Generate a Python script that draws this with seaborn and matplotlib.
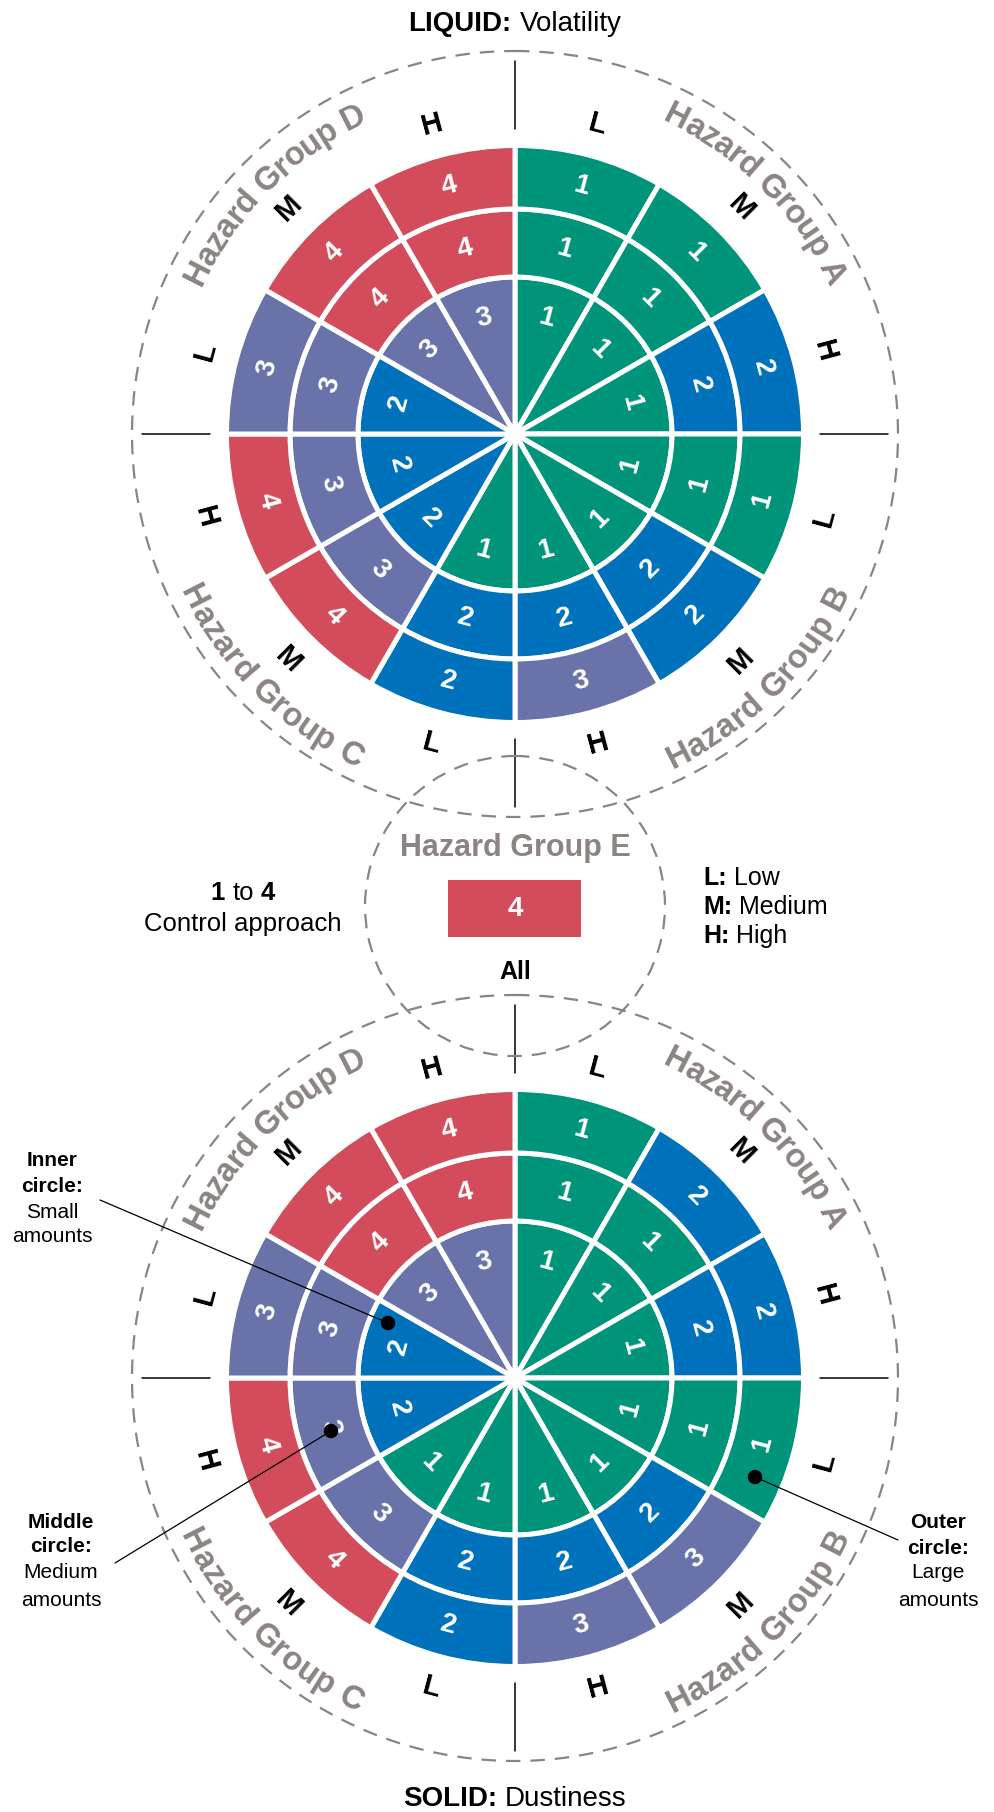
import numpy as np
import matplotlib
matplotlib.use('Agg')
import matplotlib.pyplot as plt
import seaborn as sns
from matplotlib.font_manager import FontProperties
from matplotlib.patches import Circle, Rectangle

# sectors run clockwise from 12 o'clock: A-L, A-M, A-H, B-L, ... D-H
groups = ['A', 'B', 'C', 'D']
levels = ['L', 'M', 'H']
liquid_inner = [1, 1, 1, 1, 1, 1, 1, 2, 2, 2, 3, 3]
liquid_middle = [1, 1, 2, 1, 2, 2, 2, 3, 3, 3, 4, 4]
liquid_outer = [1, 1, 2, 1, 2, 3, 2, 4, 4, 3, 4, 4]
solid_inner = [1, 1, 1, 1, 1, 1, 1, 1, 2, 2, 3, 3]
solid_middle = [1, 1, 2, 1, 2, 2, 2, 3, 3, 3, 4, 4]
solid_outer = [1, 2, 2, 1, 3, 3, 2, 4, 4, 3, 4, 4]
group_e_value = 4

sns.set_theme(style='white')
pal = sns.color_palette(['#00947B', '#0072BB', '#6A72AA', '#D24C5C'])
GRAY = '#8C8482'
SANS = ['Liberation Sans', 'DejaVu Sans']
plt.rcParams['font.family'] = SANS

W, H = 994, 1812
CX = 515
RBOX = 400
fig = plt.figure(figsize=(W / 100, H / 100), dpi=100)
renderer = fig.canvas.get_renderer()

# (bottom, top, text radius)
ring_geom = [(0, 157, 120), (157, 225, 191), (225, 288.5, 256)]


def text_w(s, prop):
    return renderer.get_text_width_height_descent(s, prop, ismath=False)[0]


def rot_for(theta):
    d = np.rad2deg(theta) % 360
    return 180 - d if 90 < d < 270 else -d


def arc_text(ax, s, theta_c, r_mid, prop, top_out, color):
    base = text_w('l', prop)
    pw = [0.0] + [text_w(s[:k] + 'l', prop) - base for k in range(1, len(s) + 1)]
    total = pw[-1]
    cap = prop.get_size_in_points() * 100 / 72 * 0.72
    r_base = r_mid - cap / 2 if top_out else r_mid + cap / 2
    for i, ch in enumerate(s):
        if ch == ' ':
            continue
        off = ((pw[i] + pw[i + 1]) / 2 - total / 2) / r_mid
        th = theta_c + off if top_out else theta_c - off
        ax.text(th, r_base, ch, fontproperties=prop, color=color,
                rotation=rot_for(th), rotation_mode='anchor',
                ha='center', va='baseline')


def draw_wheel(cy, rings):
    ax = fig.add_axes([(CX - RBOX) / W, (H - cy - RBOX) / H, 2 * RBOX / W, 2 * RBOX / H],
                      projection='polar')
    ax.set_theta_zero_location('N')
    ax.set_theta_direction(-1)
    ax.set_ylim(0, RBOX)
    ax.set_axis_off()
    theta = np.deg2rad(15 + 30 * np.arange(12))
    for (r0, r1, rt), vals in zip(ring_geom, rings):
        ax.bar(theta, r1 - r0, width=np.deg2rad(30), bottom=r0,
               color=[pal[v - 1] for v in vals], edgecolor='white', linewidth=3.6)
        for t, v in zip(theta, vals):
            ax.text(t, rt, str(v), color='white', fontsize=20, fontweight='bold',
                    rotation=rot_for(t), rotation_mode='anchor', ha='center', va='center')
    for k, t in enumerate(theta):
        ax.text(t, 320, levels[k % 3], color='black', fontsize=21, fontweight='bold',
                rotation=rot_for(t), rotation_mode='anchor', ha='center', va='center')
    # dashed outline and quadrant ticks
    tt = np.linspace(0, 2 * np.pi, 721)
    ax.plot(tt, np.full_like(tt, 383), color=GRAY, lw=1.6, ls=(0, (6.5, 4.5)))
    for q in range(4):
        ax.plot([q * np.pi / 2] * 2, [305, 373], color='black', lw=1.1)
    gprop = FontProperties(family=SANS, size=23.5, weight='bold')
    for g, ang in zip(groups, [45, 135, 225, 315]):
        arc_text(ax, 'Hazard Group ' + g, np.deg2rad(ang), 358, gprop,
                 top_out=ang in (45, 315), color=GRAY)
    return ax


draw_wheel(434, [liquid_inner, liquid_middle, liquid_outer])
draw_wheel(1378, [solid_inner, solid_middle, solid_outer])

ov = fig.add_axes([0, 0, 1, 1])
ov.set_xlim(0, W)
ov.set_ylim(H, 0)
ov.set_axis_off()


def run_text(x, y, runs, size, ha='center'):
    props = [FontProperties(family=SANS, size=size, weight=wt) for _, wt in runs]
    gap = text_w('a a', props[-1]) - text_w('aa', props[-1])
    widths = [text_w(s, p) for (s, _), p in zip(runs, props)]
    total = sum(widths) + gap * (len(runs) - 1)
    x0 = x - total / 2 if ha == 'center' else x
    for (s, _), p, w in zip(runs, props, widths):
        ov.text(x0, y, s, fontproperties=p, ha='left', va='baseline', color='black')
        x0 += w + gap


run_text(CX, 31, [('LIQUID:', 'bold'), ('Volatility', 'normal')], 20)
run_text(CX, 1806, [('SOLID:', 'bold'), ('Dustiness', 'normal')], 20)

# hazard group E
ov.add_patch(Circle((CX, 906), 150, fill=False, ec=GRAY, lw=1.6, ls=(0, (6.5, 4.5))))
ov.text(CX, 848, 'Hazard Group E', color=GRAY, fontsize=22, fontweight='bold',
        ha='center', va='center')
ov.add_patch(Rectangle((448, 880), 133, 57, color=pal[group_e_value - 1], lw=0))
ov.text(CX, 909, str(group_e_value), color='white', fontsize=20, fontweight='bold',
        ha='center', va='center')
ov.text(CX, 972, 'All', color='black', fontsize=18, fontweight='bold',
        ha='center', va='center')

# legends
run_text(243, 900, [('1', 'bold'), ('to', 'normal'), ('4', 'bold')], 18.5)
run_text(243, 931, [('Control approach', 'normal')], 18.5)
run_text(703, 885, [('L:', 'bold'), ('Low', 'normal')], 18, ha='left')
run_text(703, 914, [('M:', 'bold'), ('Medium', 'normal')], 18, ha='left')
run_text(703, 943, [('H:', 'bold'), ('High', 'normal')], 18, ha='left')

# callouts
callouts = [
    (52, [1161, 1187, 1213, 1237], ['Inner', 'circle:', 'Small', 'amounts'], (100, 1200), (388, 1323)),
    (61, [1522, 1547, 1573, 1600], ['Middle', 'circle:', 'Medium', 'amounts'], (115, 1563), (331, 1431)),
    (938, [1522, 1548, 1573, 1600], ['Outer', 'circle:', 'Large', 'amounts'], (898, 1540), (755, 1477)),
]
for x, ys, lines, p0, p1 in callouts:
    for i, (yy, s) in enumerate(zip(ys, lines)):
        ov.text(x, yy, s, fontsize=15, fontweight='bold' if i < 2 else 'normal',
                ha='center', va='center', color='black')
    ov.plot([p0[0], p1[0]], [p0[1], p1[1]], color='black', lw=0.9)
    ov.add_patch(Circle(p1, 6.5, color='black', zorder=5))

fig.savefig('out.png', dpi=100)
